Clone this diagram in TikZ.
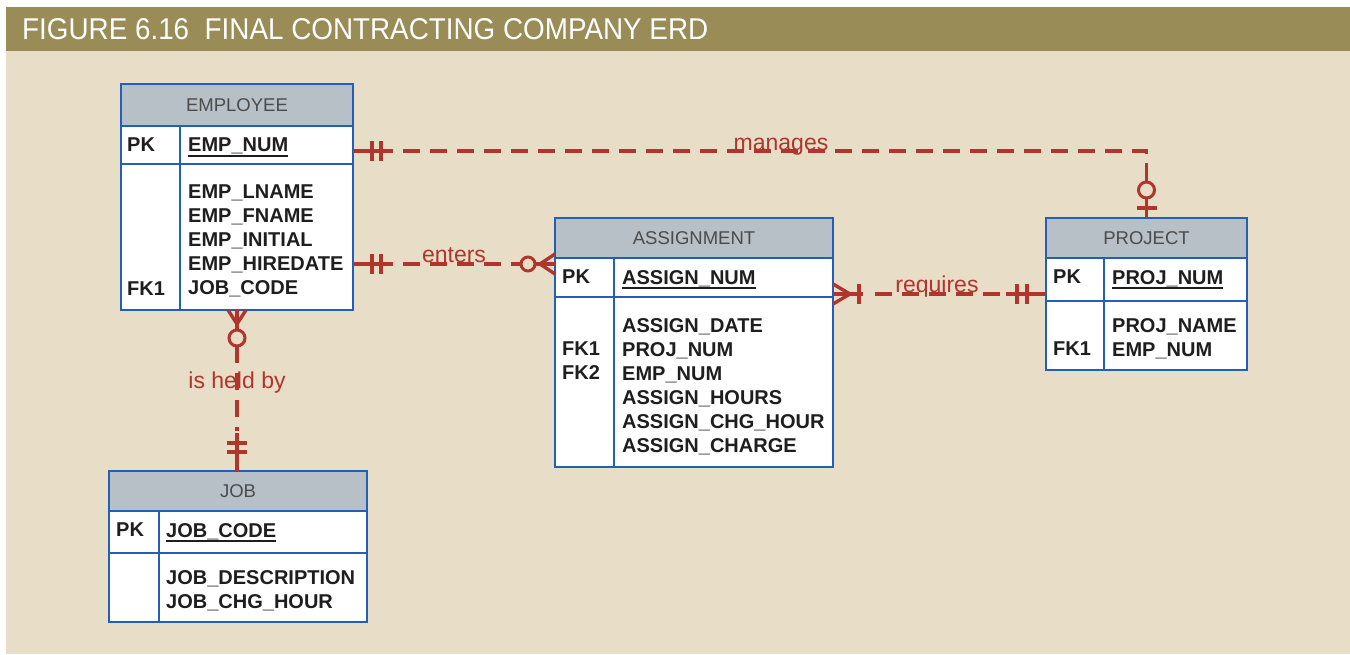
\documentclass[tikz,border=0pt]{standalone}
\usepackage{fontspec}
\usepackage{graphicx}
\setmainfont{Liberation Sans}
\usetikzlibrary{positioning,calc}
\definecolor{ERBlue}{HTML}{2260B8}
\definecolor{ERRed}{HTML}{B0352C}
\definecolor{ERHead}{HTML}{B7C0C6}
\definecolor{ERPanel}{HTML}{E8DDC6}
\definecolor{EROlive}{HTML}{9A8C56}
\definecolor{ERText}{HTML}{1E1E1E}
\newcommand{\pkul}[1]{\leavevmode\vtop{\hbox{#1}\kern0.6pt\hrule height 1.6pt}}

\begin{document}
\begin{tikzpicture}[x=1pt, y=-1pt,
  ehead/.style={draw=ERBlue, fill=ERHead, line width=2.4pt, outer sep=0pt, inner sep=0pt, font=\fontsize{18.5}{20}\selectfont, text=ERText!80},
  erow/.style={draw=ERBlue, fill=white, line width=2.4pt, outer sep=0pt, inner sep=0pt},
  key/.style={anchor=north west, inner sep=0pt, align=left, font=\fontsize{20}{24}\selectfont\bfseries, text=ERText},
  attr/.style={key},
  colline/.style={ERBlue, line width=2.4pt},
  link/.style={ERRed, line width=3.4pt, dash pattern=on 17pt off 10pt},
  tick/.style={ERRed, line width=3.4pt},
  ring/.style={ERRed, line width=3pt, fill=ERPanel},
  lbl/.style={ERRed, anchor=base, inner sep=0pt, font=\fontsize{23}{23}\selectfont}
]
\useasboundingbox (0,0) rectangle (1350,654);
\fill[white] (0,0) rectangle (1350,654);
\fill[ERPanel] (6,51) rectangle (1350,654);
\fill[EROlive] (6,7) rectangle (1350,51);
\node[anchor=west, inner sep=0pt, text=white] (title) at (22,29)
  {\resizebox{686pt}{21pt}{FIGURE 6.16\ \ FINAL CONTRACTING COMPANY ERD}};

% employee
\node[ehead, minimum width=232pt, minimum height=42pt, anchor=north west] (emphd) at (121,84) {EMPLOYEE};
\node[erow, minimum width=232pt, minimum height=38pt, below=0pt of emphd] (emppk) {};
\node[erow, minimum width=232pt, minimum height=146pt, below=0pt of emppk] (empbd) {};
\draw[colline] ([xshift=59pt]emppk.north west) -- ([xshift=59pt]empbd.south west);
\node[key] (empk1) at (127,138) {PK};
\node[attr] (empid) at (188,138) {\pkul{EMP\_NUM}};
\node[attr] (empat) at (188,185) {EMP\_LNAME\\EMP\_FNAME\\EMP\_INITIAL\\EMP\_HIREDATE\\JOB\_CODE};
\node[key] (empk2) at (127,282) {FK1};

% assignment
\node[ehead, minimum width=278pt, minimum height=40pt, anchor=north west] (asghd) at (555,218) {ASSIGNMENT};
\node[erow, minimum width=278pt, minimum height=39pt, below=0pt of asghd] (asgpk) {};
\node[erow, minimum width=278pt, minimum height=170pt, below=0pt of asgpk] (asgbd) {};
\draw[colline] ([xshift=59pt]asgpk.north west) -- ([xshift=59pt]asgbd.south west);
\node[key] (asgk1) at (562,270) {PK};
\node[attr] (asgid) at (622,270) {\pkul{ASSIGN\_NUM}};
\node[attr] (asgat) at (622,318) {ASSIGN\_DATE\\PROJ\_NUM\\EMP\_NUM\\ASSIGN\_HOURS\\ASSIGN\_CHG\_HOUR\\ASSIGN\_CHARGE};
\node[key] (asgk2) at (562,342) {FK1\\FK2};

% project
\node[ehead, minimum width=201pt, minimum height=40pt, anchor=north west] (prjhd) at (1046,218) {PROJECT};
\node[erow, minimum width=201pt, minimum height=43pt, below=0pt of prjhd] (prjpk) {};
\node[erow, minimum width=201pt, minimum height=69pt, below=0pt of prjpk] (prjbd) {};
\draw[colline] ([xshift=58pt]prjpk.north west) -- ([xshift=58pt]prjbd.south west);
\node[key] (prjk1) at (1053,270) {PK};
\node[attr] (prjid) at (1112,270) {\pkul{PROJ\_NUM}};
\node[attr] (prjat) at (1112,318) {PROJ\_NAME\\EMP\_NUM};
\node[key] (prjk2) at (1053,342) {FK1};

% job
\node[ehead, minimum width=258pt, minimum height=40pt, anchor=north west] (jobhd) at (109,471) {JOB};
\node[erow, minimum width=258pt, minimum height=42pt, below=0pt of jobhd] (jobpk) {};
\node[erow, minimum width=258pt, minimum height=69pt, below=0pt of jobpk] (jobbd) {};
\draw[colline] ([xshift=50pt]jobpk.north west) -- ([xshift=50pt]jobbd.south west);
\node[key] (jobk1) at (116,523) {PK};
\node[attr] (jobid) at (166,523) {\pkul{JOB\_CODE}};
\node[attr] (jobat) at (166,570) {JOB\_DESCRIPTION\\JOB\_CHG\_HOUR};

% labels
\node[lbl] (mglbl) at (781,150) {manages};
\node[lbl] (enlbl) at (454,262) {enters};
\node[lbl] (rqlbl) at (937,292) {requires};
\node[lbl] (hblbl) at (237,388) {is held by};

% manages
\coordinate (mgA) at ($(emppk.east)+(0,6)$);
\coordinate (mgB) at (prjhd.north);
\draw[tick] (mgA) -- ++(40,0);
\draw[tick] ($(mgA)+(19,-10)$) -- ++(0,20);
\draw[tick] ($(mgA)+(28,-10)$) -- ++(0,20);
\draw[link] ($(mgA)+(50,0)$) -| ($(mgB)+(0,-58)$);
\draw[tick] ($(mgB)+(0,-55)$) -- ($(mgB)+(0,-36)$);
\draw[ring] ($(mgB)+(0,-28)$) circle (8pt);
\draw[tick] ($(mgB)+(0,-20)$) -- (mgB);
\draw[tick] ($(mgB)+(-10,-10)$) -- ++(20,0);

% enters
\coordinate (enA) at ($(empbd.east)+(0,27)$);
\coordinate (enB) at ($(asghd.south west)+(0,6)$);
\draw[tick] (enA) -- ++(40,0);
\draw[tick] ($(enA)+(19,-10)$) -- ++(0,20);
\draw[tick] ($(enA)+(28,-10)$) -- ++(0,20);
\draw[link] ($(enA)+(50,0)$) -- ($(enB)+(-34,0)$);
\draw[tick] ($(enB)+(-20,0)$) -- (enB);
\draw[tick] ($(enB)+(-15,0)$) -- ($(enB)+(0,-10)$);
\draw[tick] ($(enB)+(-15,0)$) -- ($(enB)+(0,10)$);
\draw[ring] ($(enB)+(-27,0)$) circle (7pt);

% requires
\coordinate (rqA) at ($(asgpk.south east)+(0,-3)$);
\coordinate (rqB) at (prjpk.west |- rqA);
\draw[tick] (rqA) -- ++(30,0);
\draw[tick] ($(rqA)+(17,0)$) -- ($(rqA)+(0,-10)$);
\draw[tick] ($(rqA)+(17,0)$) -- ($(rqA)+(0,10)$);
\draw[tick] ($(rqA)+(26,-10)$) -- ++(0,20);
\draw[link] ($(rqA)+(42,0)$) -- ($(rqB)+(-46,0)$);
\draw[tick] ($(rqB)+(-40,0)$) -- (rqB);
\draw[tick] ($(rqB)+(-29,-10)$) -- ++(0,20);
\draw[tick] ($(rqB)+(-19,-10)$) -- ++(0,20);

% is held by
\coordinate (hbA) at (empbd.south);
\coordinate (hbB) at (jobhd.north -| hbA);
\draw[tick] (hbA) -- ++(0,20);
\draw[tick] ($(hbA)+(0,14)$) -- ($(hbA)+(-9,0)$);
\draw[tick] ($(hbA)+(0,14)$) -- ($(hbA)+(9,0)$);
\draw[ring] ($(hbA)+(0,28)$) circle (8pt);
\draw[link] ($(hbA)+(0,36)$) -- ($(hbB)+(0,-40)$);
\draw[tick] ($(hbB)+(0,-38)$) -- (hbB);
\draw[tick] ($(hbB)+(-10,-28)$) -- ++(20,0);
\draw[tick] ($(hbB)+(-10,-19)$) -- ++(20,0);
\end{tikzpicture}
\end{document}
